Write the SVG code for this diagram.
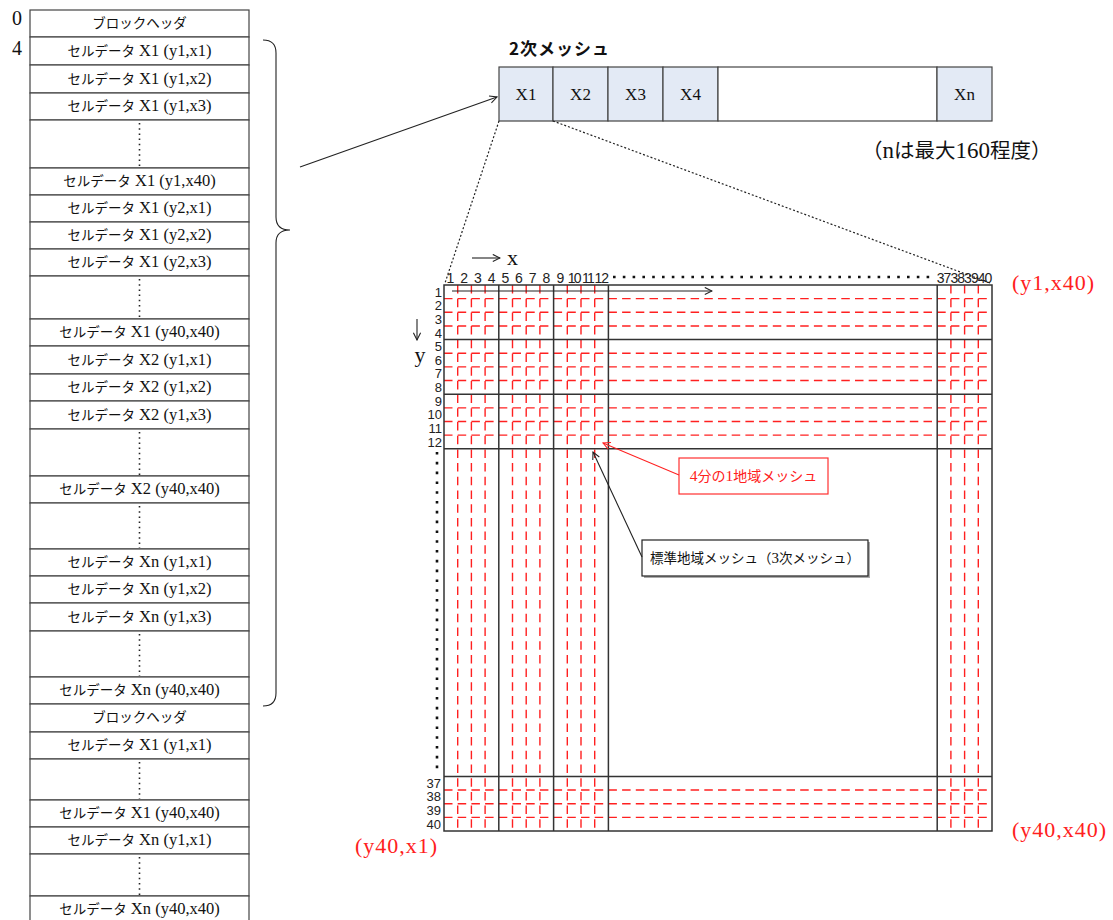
<svg xmlns="http://www.w3.org/2000/svg" width="1113" height="920" viewBox="0 0 1113 920">
<style>
.cell{fill:#fff;stroke:#444;stroke-width:1.2}
.jp{font-family:"Noto Sans CJK JP","Noto Sans",sans-serif}
.lat{font-family:"Liberation Serif",serif}
.ct{font-size:13.5px;fill:#111;text-anchor:middle}
.ct .lat{font-size:16.5px}
.vdots{stroke:#222;stroke-width:1.6;stroke-dasharray:1.5 3.7;fill:none}
.mesh{fill:#e3eaf5;stroke:#444;stroke-width:1.2}
.mt{font-family:"Liberation Serif",serif;font-size:17px;fill:#111;text-anchor:middle}
.blk{stroke:#333;stroke-width:1.5;fill:none}
.rv{stroke:#ff2020;stroke-width:1.4;stroke-dasharray:8.5 5.2;fill:none}
.rh{stroke:#ff2020;stroke-width:1.4;stroke-dasharray:8.5 5.2;fill:none}
.num{font-family:"Liberation Sans",Arial,sans-serif;font-size:14px;fill:#222}
.rnum{font-family:"Liberation Sans",Arial,sans-serif;font-size:13px;fill:#222}
.red{font-family:"Liberation Serif",serif;font-size:22px;fill:#ff2020}
.conn{stroke:#222;stroke-width:1.1;fill:none}
.dot{stroke:#222;stroke-width:1.2;stroke-dasharray:2 2;fill:none}
.bigdots{stroke:#111;stroke-width:2.6;stroke-dasharray:2.6 7.2;fill:none}
</style>
<defs>
<marker id="open" viewBox="0 0 10 10" refX="9" refY="5" markerWidth="9" markerHeight="9" markerUnits="userSpaceOnUse" orient="auto"><path d="M1,1 L9,5 L1,9" fill="none" stroke="#222" stroke-width="1.2"/></marker>
<marker id="openr" viewBox="0 0 10 10" refX="9" refY="5" markerWidth="9" markerHeight="9" markerUnits="userSpaceOnUse" orient="auto"><path d="M1,1 L9,5 L1,9" fill="none" stroke="#ff2020" stroke-width="1.2"/></marker>
</defs>
<rect width="1113" height="920" fill="#fff"/>

<!-- left index numbers -->
<text x="17" y="25" class="lat" font-size="20" text-anchor="middle" fill="#111">0</text>
<text x="17" y="55" class="lat" font-size="20" text-anchor="middle" fill="#111">4</text>

<!-- left file layout column -->
<g id="col">
<g id="r0"><rect class="cell" x="30" y="10" width="219" height="27"/><text x="139.5" y="28" class="jp ct" font-size="12.5">ブロックヘッダ</text></g>
<g id="r1"><rect class="cell" x="30" y="37" width="219" height="28"/><text x="139.5" y="56" class="ct"><tspan class="jp">セルデータ</tspan><tspan class="lat"> X1 (y1,x1)</tspan></text></g>
<g id="r2"><rect class="cell" x="30" y="65" width="219" height="28"/><text x="139.5" y="84" class="ct"><tspan class="jp">セルデータ</tspan><tspan class="lat"> X1 (y1,x2)</tspan></text></g>
<g id="r3"><rect class="cell" x="30" y="93" width="219" height="27"/><text x="139.5" y="111" class="ct"><tspan class="jp">セルデータ</tspan><tspan class="lat"> X1 (y1,x3)</tspan></text></g>
<g id="g1"><rect class="cell" x="30" y="120" width="219" height="48"/><line class="vdots" x1="139.5" y1="123" x2="139.5" y2="167"/></g>
<g id="r4"><rect class="cell" x="30" y="168" width="219" height="27"/><text x="139.5" y="186" class="ct"><tspan class="jp">セルデータ</tspan><tspan class="lat"> X1 (y1,x40)</tspan></text></g>
<g id="r5"><rect class="cell" x="30" y="195" width="219" height="27"/><text x="139.5" y="213" class="ct"><tspan class="jp">セルデータ</tspan><tspan class="lat"> X1 (y2,x1)</tspan></text></g>
<g id="r6"><rect class="cell" x="30" y="222" width="219" height="27"/><text x="139.5" y="240" class="ct"><tspan class="jp">セルデータ</tspan><tspan class="lat"> X1 (y2,x2)</tspan></text></g>
<g id="r7"><rect class="cell" x="30" y="249" width="219" height="27"/><text x="139.5" y="267" class="ct"><tspan class="jp">セルデータ</tspan><tspan class="lat"> X1 (y2,x3)</tspan></text></g>
<g id="g2"><rect class="cell" x="30" y="276" width="219" height="43"/><line class="vdots" x1="139.5" y1="279" x2="139.5" y2="318"/></g>
<g id="r8"><rect class="cell" x="30" y="319" width="219" height="27"/><text x="139.5" y="337" class="ct"><tspan class="jp">セルデータ</tspan><tspan class="lat"> X1 (y40,x40)</tspan></text></g>
<g id="r9"><rect class="cell" x="30" y="346" width="219" height="28"/><text x="139.5" y="365" class="ct"><tspan class="jp">セルデータ</tspan><tspan class="lat"> X2 (y1,x1)</tspan></text></g>
<g id="r10"><rect class="cell" x="30" y="374" width="219" height="27"/><text x="139.5" y="392" class="ct"><tspan class="jp">セルデータ</tspan><tspan class="lat"> X2 (y1,x2)</tspan></text></g>
<g id="r11"><rect class="cell" x="30" y="401" width="219" height="28"/><text x="139.5" y="420" class="ct"><tspan class="jp">セルデータ</tspan><tspan class="lat"> X2 (y1,x3)</tspan></text></g>
<g id="g3"><rect class="cell" x="30" y="429" width="219" height="47"/><line class="vdots" x1="139.5" y1="432" x2="139.5" y2="475"/></g>
<g id="r12"><rect class="cell" x="30" y="476" width="219" height="27"/><text x="139.5" y="494" class="ct"><tspan class="jp">セルデータ</tspan><tspan class="lat"> X2 (y40,x40)</tspan></text></g>
<g id="g4"><rect class="cell" x="30" y="503" width="219" height="46"/><line class="vdots" x1="139.5" y1="506" x2="139.5" y2="548"/></g>
<g id="r13"><rect class="cell" x="30" y="549" width="219" height="27"/><text x="139.5" y="567" class="ct"><tspan class="jp">セルデータ</tspan><tspan class="lat"> Xn (y1,x1)</tspan></text></g>
<g id="r14"><rect class="cell" x="30" y="576" width="219" height="27"/><text x="139.5" y="594" class="ct"><tspan class="jp">セルデータ</tspan><tspan class="lat"> Xn (y1,x2)</tspan></text></g>
<g id="r15"><rect class="cell" x="30" y="603" width="219" height="28"/><text x="139.5" y="622" class="ct"><tspan class="jp">セルデータ</tspan><tspan class="lat"> Xn (y1,x3)</tspan></text></g>
<g id="g5"><rect class="cell" x="30" y="631" width="219" height="46"/><line class="vdots" x1="139.5" y1="634" x2="139.5" y2="676"/></g>
<g id="r16"><rect class="cell" x="30" y="677" width="219" height="27"/><text x="139.5" y="695" class="ct"><tspan class="jp">セルデータ</tspan><tspan class="lat"> Xn (y40,x40)</tspan></text></g>
<g id="r17"><rect class="cell" x="30" y="704" width="219" height="28"/><text x="139.5" y="722" class="jp ct" font-size="12.5">ブロックヘッダ</text></g>
<g id="r18"><rect class="cell" x="30" y="732" width="219" height="27"/><text x="139.5" y="750" class="ct"><tspan class="jp">セルデータ</tspan><tspan class="lat"> X1 (y1,x1)</tspan></text></g>
<g id="g6"><rect class="cell" x="30" y="759" width="219" height="41"/><line class="vdots" x1="139.5" y1="762" x2="139.5" y2="799"/></g>
<g id="r19"><rect class="cell" x="30" y="800" width="219" height="27"/><text x="139.5" y="818" class="ct"><tspan class="jp">セルデータ</tspan><tspan class="lat"> X1 (y40,x40)</tspan></text></g>
<g id="r20"><rect class="cell" x="30" y="827" width="219" height="27"/><text x="139.5" y="845" class="ct"><tspan class="jp">セルデータ</tspan><tspan class="lat"> Xn (y1,x1)</tspan></text></g>
<g id="g7"><rect class="cell" x="30" y="854" width="219" height="42"/><line class="vdots" x1="139.5" y1="857" x2="139.5" y2="895"/></g>
<g id="r21"><rect class="cell" x="30" y="896" width="219" height="28"/><text x="139.5" y="914" class="ct"><tspan class="jp">セルデータ</tspan><tspan class="lat"> Xn (y40,x40)</tspan></text></g>
</g>

<!-- 2nd mesh -->
<g id="mesh2">
<text x="509" y="55" class="jp" font-size="17" font-weight="bold" letter-spacing="1" fill="#111">2次メッシュ</text>
<g id="mX1"><rect class="mesh" x="499" y="67" width="54" height="54"/><text x="526" y="100" class="mt">X1</text></g>
<g id="mX2"><rect class="mesh" x="553" y="67" width="55" height="54"/><text x="580.5" y="100" class="mt">X2</text></g>
<g id="mX3"><rect class="mesh" x="608" y="67" width="55" height="54"/><text x="635.5" y="100" class="mt">X3</text></g>
<g id="mX4"><rect class="mesh" x="663" y="67" width="55" height="54"/><text x="690.5" y="100" class="mt">X4</text></g>
<g id="mEmpty"><rect x="718" y="67" width="219" height="54" fill="#fff" stroke="#444" stroke-width="1.2"/></g>
<g id="mXn"><rect class="mesh" x="937" y="67" width="55" height="54"/><text x="964.5" y="100" class="mt">Xn</text></g>
<text x="862" y="158" font-size="20.5" fill="#111"><tspan class="jp">（</tspan><tspan class="lat" font-size="23">n</tspan><tspan class="jp">は最大</tspan><tspan class="lat" font-size="23">160</tspan><tspan class="jp">程度）</tspan></text>
</g>

<!-- 3rd mesh grid -->
<g id="grid">
<rect x="444" y="285" width="548" height="546" fill="#fff"/>
<g id="redV">
<line class="rv" x1="457.7" y1="285" x2="457.7" y2="831"/>
<line class="rv" x1="471.4" y1="285" x2="471.4" y2="831"/>
<line class="rv" x1="485.1" y1="285" x2="485.1" y2="831"/>
<line class="rv" x1="512.5" y1="285" x2="512.5" y2="831"/>
<line class="rv" x1="526.2" y1="285" x2="526.2" y2="831"/>
<line class="rv" x1="539.9" y1="285" x2="539.9" y2="831"/>
<line class="rv" x1="567.3" y1="285" x2="567.3" y2="831"/>
<line class="rv" x1="581.0" y1="285" x2="581.0" y2="831"/>
<line class="rv" x1="594.7" y1="285" x2="594.7" y2="831"/>
<line class="rv" x1="950.9" y1="285" x2="950.9" y2="831"/>
<line class="rv" x1="964.6" y1="285" x2="964.6" y2="831"/>
<line class="rv" x1="978.3" y1="285" x2="978.3" y2="831"/>
</g>
<g id="redH">
<line class="rh" x1="444" y1="298.65" x2="992" y2="298.65"/>
<line class="rh" x1="444" y1="312.3" x2="992" y2="312.3"/>
<line class="rh" x1="444" y1="325.95" x2="992" y2="325.95"/>
<line class="rh" x1="444" y1="353.25" x2="992" y2="353.25"/>
<line class="rh" x1="444" y1="366.9" x2="992" y2="366.9"/>
<line class="rh" x1="444" y1="380.55" x2="992" y2="380.55"/>
<line class="rh" x1="444" y1="407.85" x2="992" y2="407.85"/>
<line class="rh" x1="444" y1="421.5" x2="992" y2="421.5"/>
<line class="rh" x1="444" y1="435.15" x2="992" y2="435.15"/>
<line class="rh" x1="444" y1="790.05" x2="992" y2="790.05"/>
<line class="rh" x1="444" y1="803.7" x2="992" y2="803.7"/>
<line class="rh" x1="444" y1="817.35" x2="992" y2="817.35"/>
</g>
<rect x="608.4" y="448.8" width="328.8" height="327.6" fill="#fff"/>
<g id="black">
<line class="blk" x1="498.8" y1="285" x2="498.8" y2="831"/>
<line class="blk" x1="553.6" y1="285" x2="553.6" y2="831"/>
<line class="blk" x1="608.4" y1="285" x2="608.4" y2="831"/>
<line class="blk" x1="937.2" y1="285" x2="937.2" y2="831"/>
<line class="blk" x1="444" y1="339.6" x2="992" y2="339.6"/>
<line class="blk" x1="444" y1="394.2" x2="992" y2="394.2"/>
<line class="blk" x1="444" y1="448.8" x2="992" y2="448.8"/>
<line class="blk" x1="444" y1="776.4" x2="992" y2="776.4"/>
<rect x="444" y="285" width="548" height="546" fill="none" stroke="#333" stroke-width="1.5"/>
</g>
<!-- column numbers -->
<g id="colnums" class="num" text-anchor="middle">
<text x="450.5" y="283">1</text><text x="464.2" y="283">2</text><text x="477.9" y="283">3</text><text x="491.6" y="283">4</text>
<text x="505.3" y="283">5</text><text x="519" y="283">6</text><text x="532.7" y="283">7</text><text x="546.4" y="283">8</text>
<text x="560.5" y="283">9</text><text x="573.8" y="283" letter-spacing="-1.8">10</text><text x="587.5" y="283" letter-spacing="-1.8">11</text><text x="601.2" y="283" letter-spacing="-1.2">12</text>
<text x="943.5" y="283" letter-spacing="-1">37</text><text x="957.2" y="283" letter-spacing="-1">38</text><text x="970.9" y="283" letter-spacing="-1">39</text><text x="984.6" y="283" letter-spacing="-1">40</text>
</g>
<line class="bigdots" x1="613" y1="277" x2="936" y2="277"/>
<!-- row numbers -->
<g id="rownums" class="rnum" text-anchor="end">
<text x="442" y="296.5">1</text><text x="442" y="310.2">2</text><text x="442" y="323.8">3</text><text x="442" y="337.5">4</text>
<text x="442" y="351.1">5</text><text x="442" y="364.8">6</text><text x="442" y="378.4">7</text><text x="442" y="392.1">8</text>
<text x="442" y="405.7">9</text><text x="442" y="419.4">10</text><text x="442" y="433">11</text><text x="442" y="446.7">12</text>
<text x="441" y="787.8">37</text><text x="441" y="801.4">38</text><text x="441" y="815.1">39</text><text x="441" y="828.7">40</text>
</g>
<line class="bigdots" x1="437" y1="452" x2="437" y2="772"/>
<!-- axis arrows -->
<line class="conn" x1="472" y1="258" x2="500" y2="258" marker-end="url(#open)"/>
<text x="507" y="265" class="lat" font-size="22" fill="#111">x</text>
<line class="conn" x1="417" y1="319" x2="417" y2="340" marker-end="url(#open)"/>
<text x="420" y="362" class="lat" font-size="22" fill="#111" text-anchor="middle">y</text>
<line class="conn" x1="452" y1="291" x2="712" y2="291" marker-end="url(#open)"/>
<!-- corner labels -->
<text x="1012" y="290" class="red" letter-spacing="1">(y1,x40)</text>
<text x="355" y="853" class="red" letter-spacing="1">(y40,x1)</text>
<text x="1012" y="837" class="red" letter-spacing="1">(y40,x40)</text>
</g>

<!-- callout labels -->
<g id="lblQuarter">
<rect x="679" y="458" width="149" height="36" fill="#fff" stroke="#ff3030" stroke-width="1.2"/>
<text x="753.5" y="481" font-size="14" fill="#ff2020" text-anchor="middle"><tspan class="lat" font-size="15.5">4</tspan><tspan class="jp">分の</tspan><tspan class="lat" font-size="15.5">1</tspan><tspan class="jp">地域メッシュ</tspan></text>
</g>
<g id="lblStd">
<rect x="644" y="542" width="226" height="36" fill="#aaa"/>
<rect x="642" y="540" width="226" height="36" fill="#fff" stroke="#222" stroke-width="1.2"/>
<text x="755" y="563" font-size="13.5" fill="#111" text-anchor="middle"><tspan class="jp">標準地域メッシュ（</tspan><tspan class="lat" font-size="15">3</tspan><tspan class="jp">次メッシュ）</tspan></text>
</g>

<!-- connectors -->
<g id="connectors">
<path class="conn" d="M263,40 Q276,40 276,53 L276,217 Q276,230 290,230 Q276,230 276,243 L276,693 Q276,706 263,706"/>
<line class="conn" x1="300" y1="167" x2="497" y2="97" marker-end="url(#open)"/>
<line class="dot" x1="499" y1="121" x2="445" y2="283"/>
<line class="dot" x1="553" y1="121" x2="990" y2="283"/>
<line x1="679" y1="475" x2="603" y2="443" stroke="#ff2020" stroke-width="1.1" marker-end="url(#openr)"/>
<line class="conn" x1="642" y1="557" x2="593" y2="452" marker-end="url(#open)"/>
</g>
</svg>
